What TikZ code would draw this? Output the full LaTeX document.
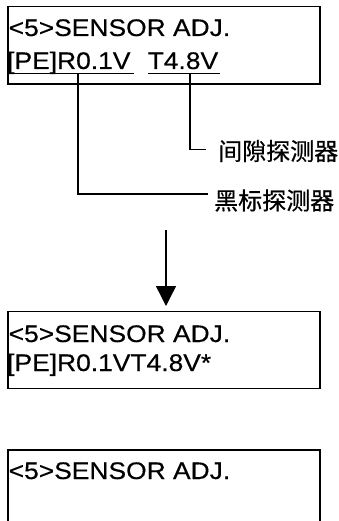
\documentclass[tikz,border=0pt]{standalone}
\usepackage{fontspec}
\setmainfont{Liberation Sans}[FakeStretch=1.1,FakeBold=0.4]
\newfontfamily\cjk{Noto Sans CJK SC}[FakeBold=0.5]
\usetikzlibrary{arrows.meta}
\begin{document}
\begin{tikzpicture}[x=1pt,y=-1pt,
  lcdbox/.style={draw, line width=1.5pt, minimum width=312pt, anchor=north west, inner sep=0pt},
  lcdtext/.style={anchor=base west, inner sep=0pt, font=\fontsize{24}{24}\selectfont},
  lbl/.style={anchor=west, inner sep=0pt, font=\cjk\fontsize{24}{24}\selectfont},
  lead/.style={line width=1.4pt},
  uline/.style={line width=1.5pt}]
\useasboundingbox (0,0) rectangle (338,521);
% box 1
\node[lcdbox, minimum height=77.5pt] (b1) at (7,6) {};
\node[lcdtext] (t1a) at (8.5,36) {<5>SENSOR ADJ.};
\node[lcdtext] (t1b) at (7,69) {[PE]R0.1V};
\node[lcdtext] (t1c) at (147.5,69) {T4.8V};
\coordinate (u1s) at (8,73.5);
\coordinate (u1e) at (133.5,73.5);
\coordinate (u2s) at (148,73.5);
\coordinate (u2e) at (220,73.5);
\draw[uline] (u1s) -- (u1e);
\draw[uline] (u2s) -- (u2e);
% labels
\node[lbl] (gap) at (218,151) {间隙探测器};
\node[lbl] (mark) at (214,200.5) {黑标探测器};
\coordinate (k1) at (78,73.5);
\coordinate (k1e) at (208,194);
\coordinate (k2) at (190,73.5);
\coordinate (k2e) at (206,149.5);
\draw[lead] (k1) |- (k1e);
\draw[lead] (k2) |- (k2e);
% box 2 and arrow
\node[lcdbox, minimum height=77pt] (b2) at (7,310.5) {};
\coordinate (a0) at (166,230);
\coordinate (a1) at (166,306);
\draw[line width=1.4pt, -{Triangle[width=20pt,length=20pt]}] (a0) -- (a1);
\node[lcdtext] (t2a) at (8.5,342) {<5>SENSOR ADJ.};
\node[lcdtext] (t2b) at (7,371) {[PE]R0.1VT4.8V*};
% box 3
\node[lcdbox, minimum height=90pt] (b3) at (7,449) {};
\node[lcdtext] (t3a) at (8.5,479) {<5>SENSOR ADJ.};
\end{tikzpicture}
\end{document}
